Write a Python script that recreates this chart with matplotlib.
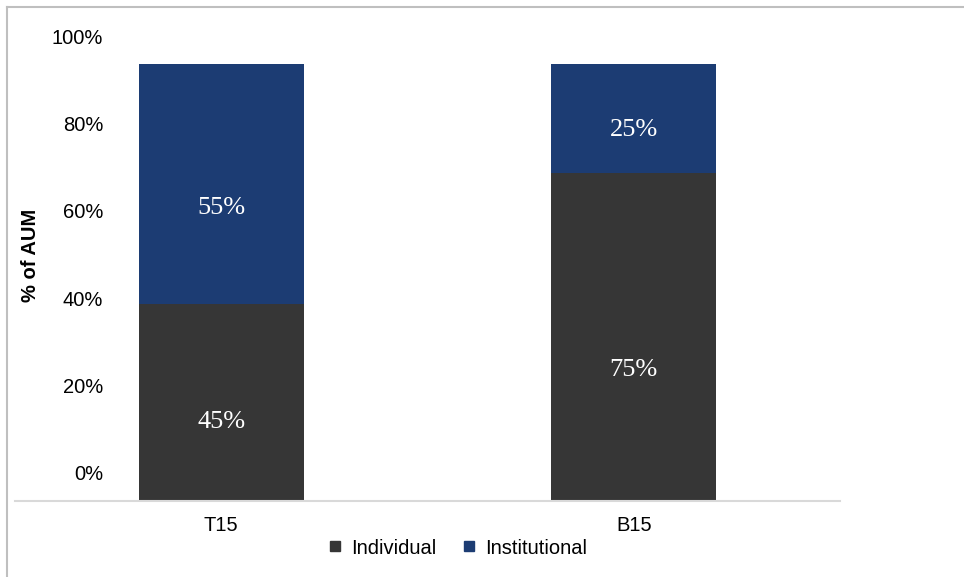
import matplotlib
matplotlib.use("Agg")
import matplotlib.pyplot as plt
import matplotlib.transforms as mtransforms
from matplotlib.lines import Line2D

# chart data
categories = ["T15", "B15"]
individual = [0.45, 0.75]
institutional = [0.55, 0.25]
series_names = ["Individual", "Institutional"]
y_ticks = [0.0, 0.2, 0.4, 0.6, 0.8, 1.0]
y_tick_labels = ["0%", "20%", "40%", "60%", "80%", "100%"]

DARK = "#363636"
BLUE = "#1c3c73"
GRID_GRAY = "#d9d9d9"
BORDER_GRAY = "#bfbfbf"

W, H = 964, 577
fig = plt.figure(figsize=(W / 100, H / 100), dpi=100)
ax = fig.add_axes([15 / W, (H - 501) / H, 825 / W, 437 / H])

x = list(range(len(categories)))
bar_w = 0.40
ax.bar(x, individual, width=bar_w, color=DARK, label=series_names[0])
ax.bar(x, institutional, width=bar_w, bottom=individual, color=BLUE,
       label=series_names[1])

# data labels, sitting a bit below the middle of each segment
for i in x:
    segs = [(0, individual[i]), (individual[i], institutional[i])]
    for bottom, h in segs:
        ax.text(i, bottom + 0.4 * h, f"{h:.0%}", ha="center", va="center",
                color="white", fontsize=19, family="Liberation Serif")

ax.set_xlim(-0.5, 1.5)
ax.set_ylim(0, 1.0)

for side in ["top", "right", "left"]:
    ax.spines[side].set_visible(False)
ax.spines["bottom"].set_color(GRID_GRAY)
ax.spines["bottom"].set_linewidth(1.5)

ax.set_xticks(x)
ax.set_xticklabels(categories, fontsize=14.5, family="Liberation Sans")
ax.tick_params(axis="x", length=0, pad=11)

# y tick labels drawn by hand (they sit inside the plot area, shifted up)
ax.set_yticks([])
ylab_tr = mtransforms.blended_transform_factory(ax.transAxes, ax.transData) + \
    mtransforms.ScaledTranslation(0, 26 / 100, fig.dpi_scale_trans)
for t, lab in zip(y_ticks, y_tick_labels):
    ax.text((103 - 15) / 825, t, lab, transform=ylab_tr, ha="right",
            va="center", fontsize=14.5, family="Liberation Sans")

fig.text(31 / W, 1 - 255 / H, "% of AUM", rotation=90, ha="center",
         va="center", fontsize=14.5, fontweight="bold", family="Liberation Sans")

handles = [Line2D([], [], marker="s", linestyle="none", markersize=7.5,
                  color=c) for c in (DARK, BLUE)]
fig.legend(handles, series_names, loc="center", ncol=2,
           bbox_to_anchor=(458 / W, 1 - 548 / H), frameon=False,
           prop={"family": "Liberation Sans", "size": 14.5},
           handlelength=0.6, handletextpad=0.5, columnspacing=1.3,
           borderaxespad=0, borderpad=0)

# outer chart border (top and left only visible)
fig.add_artist(Line2D([7 / W, 1], [1 - 7 / H, 1 - 7 / H],
                      transform=fig.transFigure, color=BORDER_GRAY, lw=1.5))
fig.add_artist(Line2D([7 / W, 7 / W], [0, 1 - 7 / H],
                      transform=fig.transFigure, color=BORDER_GRAY, lw=1.5))

fig.savefig("out.png", dpi=100, facecolor="white")
